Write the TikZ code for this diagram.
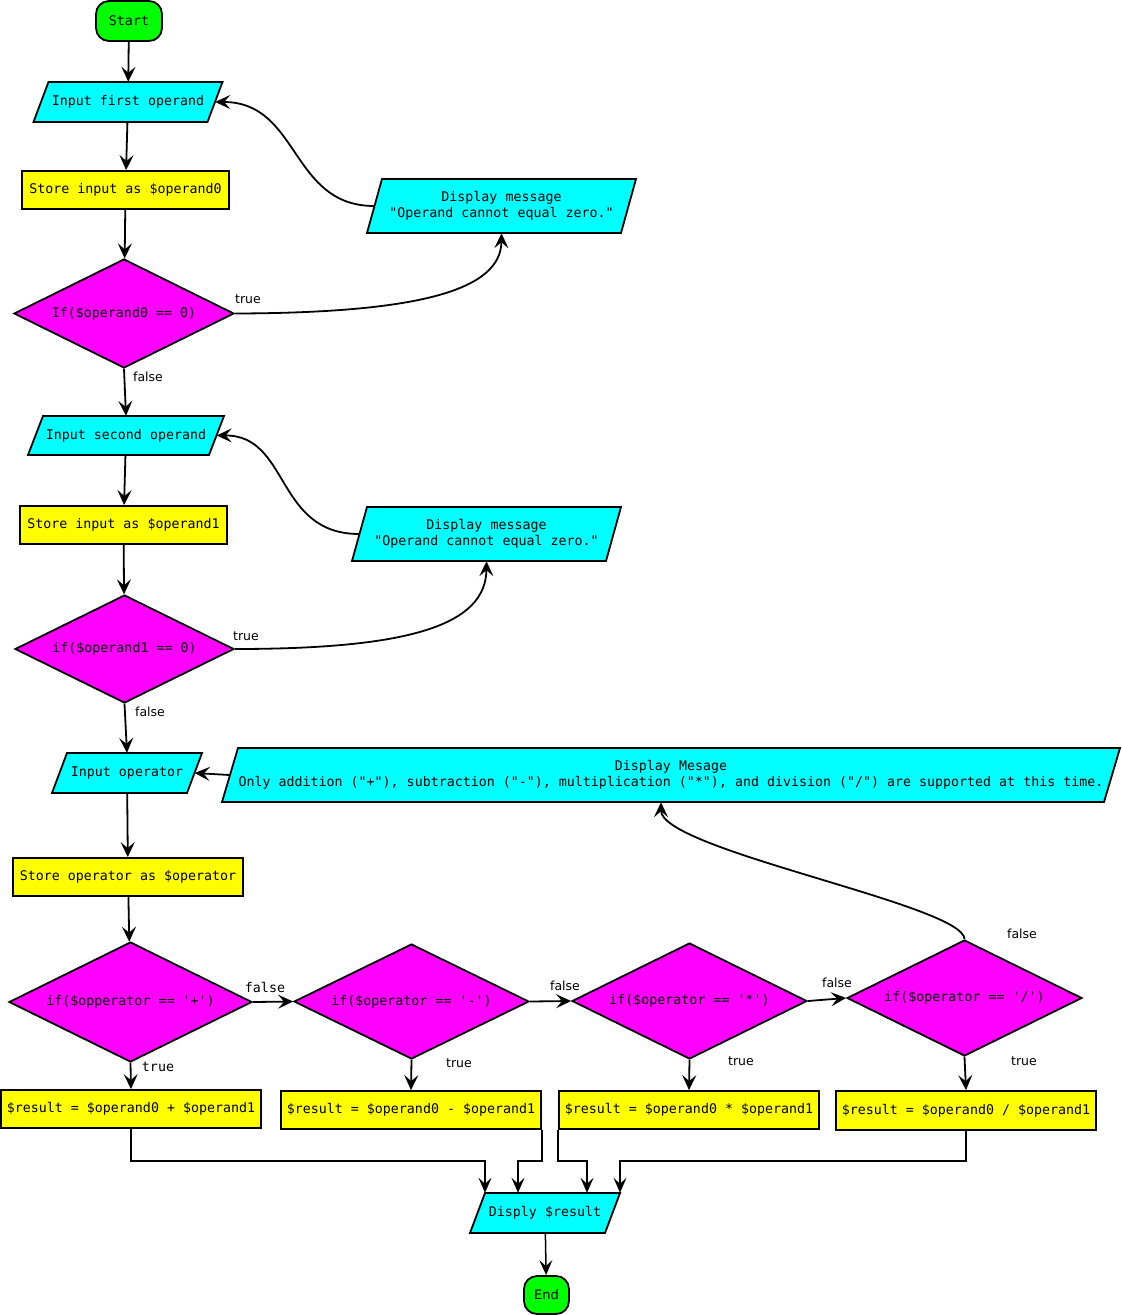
\documentclass[tikz,border=0pt]{standalone}
\usepackage{fontspec}
\usetikzlibrary{shapes.geometric,arrows.meta,calc}
\newfontfamily\flowmono{DejaVu Sans Mono}
\newfontfamily\flowsans{DejaVu Sans}

\definecolor{termgreen}{HTML}{00FF00}
\definecolor{iocyan}{HTML}{00FFFF}
\definecolor{procyellow}{HTML}{FFFF00}
\definecolor{decmagenta}{HTML}{FF00FF}

\tikzset{
  monotext/.style={font=\flowmono\fontsize{13.3}{16}\selectfont},
  base/.style={draw=black, line width=1.8pt, inner sep=0pt, align=center, monotext},
  term/.style={base, rectangle, rounded corners=13pt, fill=termgreen},
  iopath/.style={draw=black, line width=1.8pt, fill=iocyan, line join=miter},
  iotext/.style={rectangle, inner sep=0pt, align=center, monotext},
  proc/.style={base, rectangle, fill=procyellow},
  dec/.style={base, diamond, aspect=2, fill=decmagenta},
  arr/.style={line width=1.8pt, -{Stealth[length=15pt,width=14pt,inset=6pt]}},
  thinarr/.style={line width=1.5pt, -{Stealth[length=15pt,width=13pt,inset=6pt]}},
  lbl/.style={font=\flowsans\fontsize{12.5}{15}\selectfont, inner sep=0pt},
  monolbl/.style={monotext, inner sep=0pt},
}

% input/output parallelogram: name, x, y, width, height, slant, text
\newcommand\ioshape[7]{%
  \path[iopath] (#2-#4/2,#3+#5/2) -- (#2-#4/2+#6,#3-#5/2) -- (#2+#4/2,#3-#5/2)
    -- (#2+#4/2-#6,#3+#5/2) -- cycle;
  \node[iotext, minimum width=#4-#6, minimum height=#5] (#1) at (#2,#3) {#7};}

\begin{document}
\begin{tikzpicture}[x=1pt,y=-1pt]
\useasboundingbox (0,0) rectangle (1122,1315);

% main column: first operand
\node[term, minimum width=66, minimum height=40] (start) at (129,21) {Start};
\ioshape{in1}{128}{102}{189}{40}{15}{Input first operand}
\node[proc, minimum width=207, minimum height=38] (st0) at (125.5,190) {Store input as \$operand0};
\node[dec, minimum width=220, minimum height=109] (d1) at (124,313.5) {If(\$operand0 == 0)};
\ioshape{m1}{501.5}{206}{269}{54}{15}{Display message\\"Operand cannot equal zero."}

% second operand
\ioshape{in2}{126}{435.5}{196}{39}{15}{Input second operand}
\node[proc, minimum width=207, minimum height=38] (st1) at (123.5,525) {Store input as \$operand1};
\node[dec, minimum width=219, minimum height=108] (d2) at (124.5,649) {if(\$operand1 == 0)};
\ioshape{m2}{486.5}{534}{269}{54}{15}{Display message\\"Operand cannot equal zero."}

% operator
\ioshape{inop}{127}{773}{150}{40}{15}{Input operator}
\ioshape{big}{671}{775}{898}{54}{16}{Display Mesage\\Only addition ("+"), subtraction ("-"), multiplication ("*"), and division ("/") are supported at this time.}
\node[proc, minimum width=230, minimum height=38] (stop) at (128,877) {Store operator as \$operator};

% operator tests
\node[dec, minimum width=243, minimum height=120] (dplus) at (130.5,1002) {if(\$opperator == '+')};
\node[dec, minimum width=235, minimum height=115] (dminus) at (411.5,1001.5) {if(\$operator == '-')};
\node[dec, minimum width=235, minimum height=116] (dstar) at (689.5,1001) {if(\$operator == '*')};
\node[dec, minimum width=235, minimum height=116] (dslash) at (964.5,998) {if(\$operator == '/')};

% results
\node[proc, minimum width=260, minimum height=38] (r1) at (131,1109) {\$result = \$operand0 + \$operand1};
\node[proc, minimum width=260, minimum height=38] (r2) at (411,1110) {\$result = \$operand0 - \$operand1};
\node[proc, minimum width=260, minimum height=38] (r3) at (689,1110) {\$result = \$operand0 * \$operand1};
\node[proc, minimum width=260, minimum height=39] (r4) at (966,1110.5) {\$result = \$operand0 / \$operand1};

\ioshape{disp}{545}{1213}{150}{40}{15}{Disply \$result}
\node[term, minimum width=45, minimum height=38, font=\flowsans\fontsize{13}{15}\selectfont] (endn) at (546.5,1295) {End};

\coordinate (mergerow) at (0,1161);

% straight flow
\draw[arr] (start) -- (in1);
\draw[arr] (in1) -- (st0);
\draw[arr] (st0) -- (d1);
\draw[arr] (d1.south) -- (in2.north);
\draw[arr] (in2) -- (st1);
\draw[arr] (st1) -- (d2);
\draw[arr] (d2.south) -- (inop.north);
\draw[arr] (inop) -- (stop);
\draw[arr] (stop) -- (dplus);

% zero checks
\draw[arr] (d1.east) .. controls (420,313) and (501,290) .. (m1.south);
\draw[arr] (m1.west) .. controls (290,206) and (300,102) .. (in1.east);
\draw[arr] (d2.east) .. controls (410,649) and (486,625) .. (m2.south);
\draw[arr] (m2.west) .. controls (275,534) and (290,435) .. (in2.east);

% operator chain
\draw[arr] (dplus.east) -- (dminus.west);
\draw[arr] (dminus.east) -- (dstar.west);
\draw[arr] (dstar.east) -- (dslash.west);
\draw[arr] (dslash.north) .. controls (964,905) and (661,850) .. ([xshift=-10pt]big.south);
\draw[arr] (big.west) -- (inop.east);

\draw[arr] (dplus.south) -- (r1.north);
\draw[arr] (dminus.south) -- (r2.north);
\draw[arr] (dstar.south) -- (r3.north);
\draw[arr] (dslash.south) -- (r4.north);

% merge into the display
\draw[thinarr] (r1.south) -- (r1.south |- mergerow) -| ([xshift=-60pt]disp.north);
\draw[thinarr] (r2.south east) -- (r2.south east |- mergerow) -| ([xshift=-27pt]disp.north);
\draw[thinarr] (r3.south west) -- (r3.south west |- mergerow) -| ([xshift=42pt]disp.north);
\draw[thinarr] (r4.south) -- (r4.south |- mergerow) -| ([xshift=75pt]disp.north);
\draw[thinarr] (disp) -- (endn);

% branch labels
\node[lbl] (t1) at (248,299) {true};
\node[lbl] (f1) at (148,377) {false};
\node[lbl] (t2) at (246,636) {true};
\node[lbl] (f2) at (150,712) {false};
\node[monolbl] (fplus) at (265,987) {false};
\node[monolbl] (tplus) at (158,1067) {true};
\node[lbl] (fminus) at (565,986) {false};
\node[lbl] (tminus) at (459,1063) {true};
\node[lbl] (fstar) at (837,983) {false};
\node[lbl] (tstar) at (741,1061) {true};
\node[lbl] (fslash) at (1022,934) {false};
\node[lbl] (tslash) at (1024,1061) {true};
\end{tikzpicture}
\end{document}
